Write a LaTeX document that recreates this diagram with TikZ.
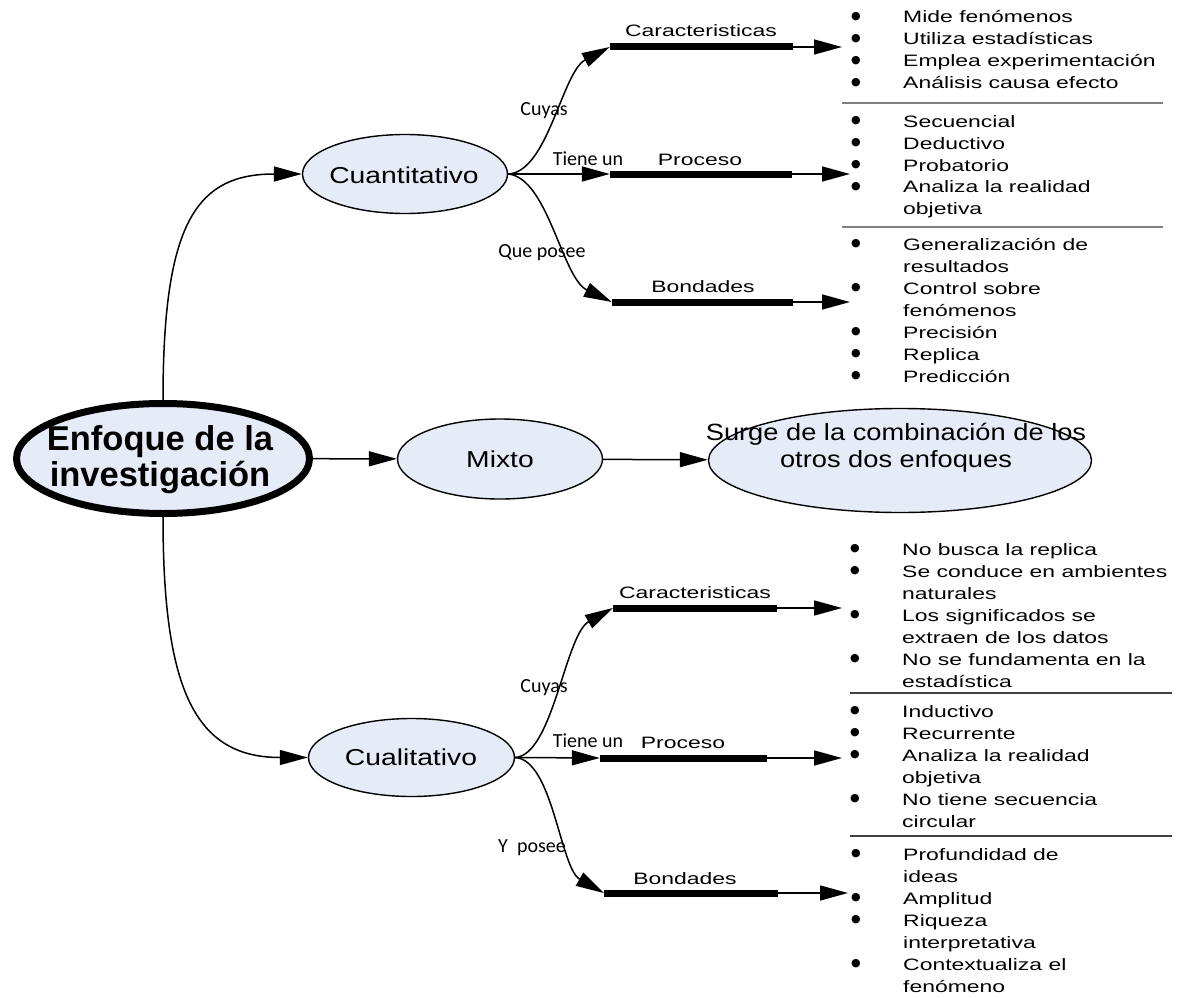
\documentclass[tikz,border=0pt]{standalone}
\usepackage{fontspec}
\setmainfont{Liberation Sans}
\newfontfamily\listfont[FakeStretch=1.39]{Liberation Sans}
\newfontfamily\ellfont[FakeStretch=1.23]{Liberation Sans}
\newfontfamily\surgefont[FakeStretch=1.16]{Liberation Sans}
\newfontfamily\linkfont{Carlito}
\newfontfamily\dotfont{DejaVu Sans}
\usetikzlibrary{shapes.geometric,arrows.meta}
\definecolor{ellfill}{RGB}{230,236,247}

% bullet item, continuation line, and stacked blocks with fixed baselines
\newcommand\bul{\raisebox{3.2pt}{\dotfont\fontsize{11}{12}\selectfont ●}}
\newcommand\itm[1]{\hbox{\makebox[52pt][l]{\bul}#1}}
\newcommand\cnt[1]{\hbox{\kern52pt #1}}
\newcommand\stack[1]{\vtop{\baselineskip=22pt\lineskiplimit=-100pt\lineskip=0pt #1}}
\newcommand\cenline[1]{\hbox to 0pt{\hss #1\hss}}
\newcommand\cstack[2]{\vtop{\baselineskip=#1\lineskiplimit=-100pt\lineskip=0pt #2}}

\begin{document}
\begin{tikzpicture}[x=1pt,y=-1pt,
  ell/.style={ellipse, draw, line width=1.4pt, fill=ellfill, inner sep=0pt},
  txt/.style={inner sep=0pt, anchor=base},
  lst/.style={inner sep=0pt, anchor=base west, font={\listfont\fontsize{16.5}{22}\selectfont}},
  barlab/.style={inner sep=0pt, anchor=base, font={\listfont\fontsize{16.5}{22}\selectfont}},
  linklab/.style={inner sep=0pt, anchor=base, font={\linkfont\fontsize{20}{24}\selectfont}},
  ellt/.style={inner sep=0pt, anchor=base, font={\ellfont\fontsize{23}{27}\selectfont}},
  arr/.style={line width=1.5pt, -{Triangle[length=28pt,width=15pt]}},
  bar/.style={fill=black, inner sep=0pt, minimum height=7pt},
  sepA/.style={line width=1.2pt, black!50},
  sepB/.style={line width=1.2pt, black!75}]

\useasboundingbox (0,0) rectangle (1184,998);

% ---------- ellipses ----------
\node[ell, line width=7pt, minimum width=293pt, minimum height=110pt] (main) at (163,458.5) {};
\node[txt, font={\fontsize{34.5}{36}\selectfont\bfseries}] (mainT) at (160,450)
  {\cstack{36pt}{\cenline{Enfoque de la}\cenline{investigación}}};

\node[ell, minimum width=205pt, minimum height=79pt] (cuant) at (405,174) {};
\node[ellt] (cuantT) at (404,183) {Cuantitativo};

\node[ell, minimum width=205pt, minimum height=80pt] (mixto) at (500,459) {};
\node[ellt] (mixtoT) at (500,467) {Mixto};

\node[ell, minimum width=383pt, minimum height=104pt] (surge) at (900,460.5) {};
\node[txt, font={\surgefont\fontsize{23.5}{27}\selectfont}] (surgeT) at (896,440)
  {\cstack{27pt}{\cenline{Surge de la combinación de los}\cenline{otros dos enfoques}}};

\node[ell, minimum width=206pt, minimum height=78pt] (cual) at (411.5,757.5) {};
\node[ellt] (cualT) at (411,765) {Cualitativo};

% ---------- main connectors ----------
\draw[arr] (main.north) .. controls (163,225) and (195,174) .. (cuant.west);
\draw[arr] (main.south) .. controls (163,690) and (195,757.5) .. (cual.west);
\draw[arr] (main) -- (mixto);
\draw[arr] (mixto) -- (surge);

% ---------- quantitative branch ----------
\node[bar, minimum width=183pt] (barA) at (701.5,47) {};
\node[bar, minimum width=182pt] (barB) at (701,174) {};
\node[bar, minimum width=181pt] (barC) at (702.5,302) {};
\node[barlab] (barAT) at (701,37) {Caracteristicas};
\node[barlab] (barBT) at (700,165) {Proceso};
\node[barlab] (barCT) at (703,292) {Bondades};

\coordinate (tipA) at (842,47);
\coordinate (tipB) at (850,174);
\coordinate (tipC) at (850,302);

\draw[arr] (cuant.east) .. controls (548,172) and (562,72) .. (barA.west);
\draw[arr] (cuant.east) -- (barB.west);
\draw[arr] (cuant.east) .. controls (548,178) and (562,278) .. (barC.west);
\draw[arr] (barA.east) -- (tipA);
\draw[arr] (barB.east) -- (tipB);
\draw[arr] (barC.east) -- (tipC);

\node[linklab] (lnkA) at (544,115) {Cuyas};
\node[linklab] (lnkB) at (588,165) {Tiene un};
\node[linklab] (lnkC) at (542,257) {Que posee};

% ---------- qualitative branch ----------
\node[bar, minimum width=164pt] (barD) at (695,608) {};
\node[bar, minimum width=167pt] (barE) at (683.5,758) {};
\node[bar, minimum width=174pt] (barF) at (691,893) {};
\node[barlab] (barDT) at (695,598) {Caracteristicas};
\node[barlab] (barET) at (683,748) {Proceso};
\node[barlab] (barFT) at (685,884) {Bondades};

\coordinate (tipD) at (842,608);
\coordinate (tipE) at (842,758);
\coordinate (tipF) at (848,893);

\draw[arr] (cual.east) .. controls (553,755) and (565,635) .. (barD.west);
\draw[arr] (cual.east) -- (barE.west);
\draw[arr] (cual.east) .. controls (553,760) and (560,868) .. (barF.west);
\draw[arr] (barD.east) -- (tipD);
\draw[arr] (barE.east) -- (tipE);
\draw[arr] (barF.east) -- (tipF);

\node[linklab] (lnkD) at (544,692) {Cuyas};
\node[linklab] (lnkE) at (588,747) {Tiene un};
\node[linklab] (lnkF) at (532,852) {Y~~posee};

% ---------- bullet lists ----------
\node[lst] (listA) at (851,23) {\stack{%
  \itm{Mide fenómenos}\itm{Utiliza estadísticas}%
  \itm{Emplea experimentación}\itm{Análisis causa efecto}}};
\node[lst] (listB) at (851,127) {\stack{%
  \itm{Secuencial}\itm{Deductivo}\itm{Probatorio}%
  \itm{Analiza la realidad}\cnt{objetiva}}};
\node[lst] (listC) at (851,250) {\stack{%
  \itm{Generalización de}\cnt{resultados}\itm{Control sobre}\cnt{fenómenos}%
  \itm{Precisión}\itm{Replica}\itm{Predicción}}};

\node[lst] (listD) at (850,555) {\stack{%
  \itm{No busca la replica}\itm{Se conduce en ambientes}\cnt{naturales}%
  \itm{Los significados se}\cnt{extraen de los datos}%
  \itm{No se fundamenta en la}\cnt{estadística}}};
\node[lst] (listE) at (850,717) {\stack{%
  \itm{Inductivo}\itm{Recurrente}\itm{Analiza la realidad}\cnt{objetiva}%
  \itm{No tiene secuencia}\cnt{circular}}};
\node[lst] (listF) at (851,860) {\stack{%
  \itm{Profundidad de}\cnt{ideas}\itm{Amplitud}%
  \itm{Riqueza}\cnt{interpretativa}\itm{Contextualiza el}\cnt{fenómeno}}};

% separators between lists
\draw[sepA] (842,103) -- (1163,103);
\draw[sepA] (842,227) -- (1163,227);
\draw[sepB] (850,693) -- (1172,693);
\draw[sepB] (850,836) -- (1172,836);

\end{tikzpicture}
\end{document}
